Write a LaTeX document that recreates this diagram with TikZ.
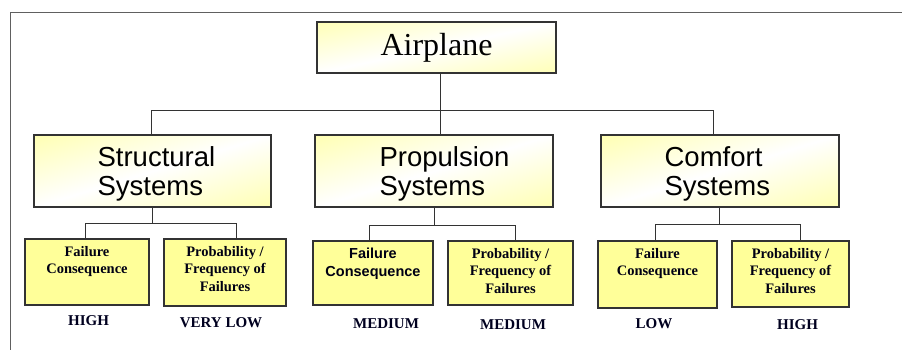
\documentclass[tikz,border=0pt]{standalone}
\usepackage{fontspec}
\setmainfont{Liberation Serif}
\newfontfamily\arialf{Liberation Sans}
\definecolor{yel}{HTML}{FFFF99}
\definecolor{edge}{HTML}{333333}
\definecolor{framec}{HTML}{606060}
\pgfdeclareverticalshading{ywy}{100bp}{color(0bp)=(yel); color(8bp)=(yel); color(50bp)=(white); color(92bp)=(yel); color(100bp)=(yel)}
\begin{document}
\begin{tikzpicture}[x=1pt,y=1pt,
  grad/.style={draw=edge, line width=1.2pt, inner sep=0pt, shading=ywy, shading angle=17},
  midtext/.style={anchor=base west, align=left, inner sep=0pt,
    font=\arialf\fontsize{27.5}{29}\selectfont},
  leaf/.style={draw=edge, line width=1.2pt, fill=yel, inner sep=0pt},
  leaftext/.style={anchor=north, align=center, inner sep=0pt,
    font=\fontsize{14.5}{17.5}\selectfont\bfseries, text=black!92!blue},
  lvl/.style={font=\fontsize{15}{17}\selectfont\bfseries, text=black!88!blue, inner sep=0pt},
  conn/.style={draw=edge, line width=1pt},
  frame/.style={draw=framec, line width=1pt}
]
\useasboundingbox (0,0) rectangle (902,-350);
\coordinate (fa) at (10,-350);
\coordinate (fb) at (10,-13);
\coordinate (fc) at (902,-13);
\draw[frame] (fa) -- (fb) -- (fc);

% top
\node[grad, shading angle=12, minimum width=239pt, minimum height=51pt,
  font=\fontsize{32}{36}\selectfont] (air) at (436.5,-47.5) {Airplane};

% level 2
\node[grad, minimum width=237pt, minimum height=72pt] (str) at (152.5,-171) {};
\node[grad, minimum width=238pt, minimum height=72pt] (pro) at (434,-171) {};
\node[grad, minimum width=238pt, minimum height=72pt] (com) at (720,-171) {};
\coordinate (base2) at (0,-195);
\node[midtext] (strt) at ([xshift=64pt]str.west |- base2) {Structural\\Systems};
\node[midtext] (prot) at ([xshift=65pt]pro.west |- base2) {Propulsion\\Systems};
\node[midtext] (comt) at ([xshift=64pt]com.west |- base2) {Comfort\\Systems};

% level 3 boxes
\node[leaf, minimum width=124pt, minimum height=66pt] (sfc) at (87,-272) {};
\node[leaf, minimum width=122pt, minimum height=67pt] (spf) at (225,-272.5) {};
\node[leaf, minimum width=120pt, minimum height=64pt] (pfc) at (373,-273) {};
\node[leaf, minimum width=125pt, minimum height=64pt] (ppf) at (510.5,-273) {};
\node[leaf, minimum width=119pt, minimum height=67pt] (cfc) at (657.5,-274.5) {};
\node[leaf, minimum width=117pt, minimum height=66pt] (cpf) at (790.5,-274) {};

\node[leaftext] (sfct) at ([yshift=-7.5pt]sfc.north) {Failure\\Consequence};
\node[leaftext] (spft) at ([yshift=-7.5pt]spf.north) {Probability /\\Frequency of\\Failures};
\node[leaftext, font=\arialf\fontsize{14.5}{17.5}\selectfont\bfseries] (pfct) at ([yshift=-7.5pt]pfc.north) {Failure\\Consequence};
\node[leaftext] (ppft) at ([yshift=-7.5pt]ppf.north) {Probability /\\Frequency of\\Failures};
\node[leaftext] (cfct) at ([yshift=-7.5pt]cfc.north) {Failure\\Consequence};
\node[leaftext] (cpft) at ([yshift=-7.5pt]cpf.north) {Probability /\\Frequency of\\Failures};

% labels
\node[lvl] (l1) at (88.5,-321) {HIGH};
\node[lvl] (l2) at (221,-323) {VERY LOW};
\node[lvl] (l3) at (386,-324) {MEDIUM};
\node[lvl] (l4) at (513,-325) {MEDIUM};
\node[lvl] (l5) at (654,-324) {LOW};
\node[lvl] (l6) at (797.5,-325) {HIGH};

% connectors level 1-2
\coordinate (b1) at (440,-111);
\coordinate (sd) at (151,-111);
\coordinate (cd) at (713,-111);
\draw[conn] (air.south -| b1) -- (b1 |- pro.north);
\draw[conn] (sd |- str.north) -- (sd) -- (cd) -- (cd |- com.north);

% connectors level 2-3
\coordinate (s0) at (152,-223);
\coordinate (s1) at (85,-223);
\coordinate (s2) at (236,-223);
\draw[conn] (s0 |- str.south) -- (s0);
\draw[conn] (s1 |- sfc.north) -- (s1) -- (s2) -- (s2 |- spf.north);

\coordinate (p0) at (434,-225);
\coordinate (p1) at (369,-225);
\coordinate (p2) at (515,-225);
\draw[conn] (p0 |- pro.south) -- (p0);
\draw[conn] (p1 |- pfc.north) -- (p1) -- (p2) -- (p2 |- ppf.north);

\coordinate (c0) at (719,-224);
\coordinate (c1) at (655,-224);
\coordinate (c2) at (800,-224);
\draw[conn] (c0 |- com.south) -- (c0);
\draw[conn] (c1 |- cfc.north) -- (c1) -- (c2) -- (c2 |- cpf.north);
\end{tikzpicture}
\end{document}
